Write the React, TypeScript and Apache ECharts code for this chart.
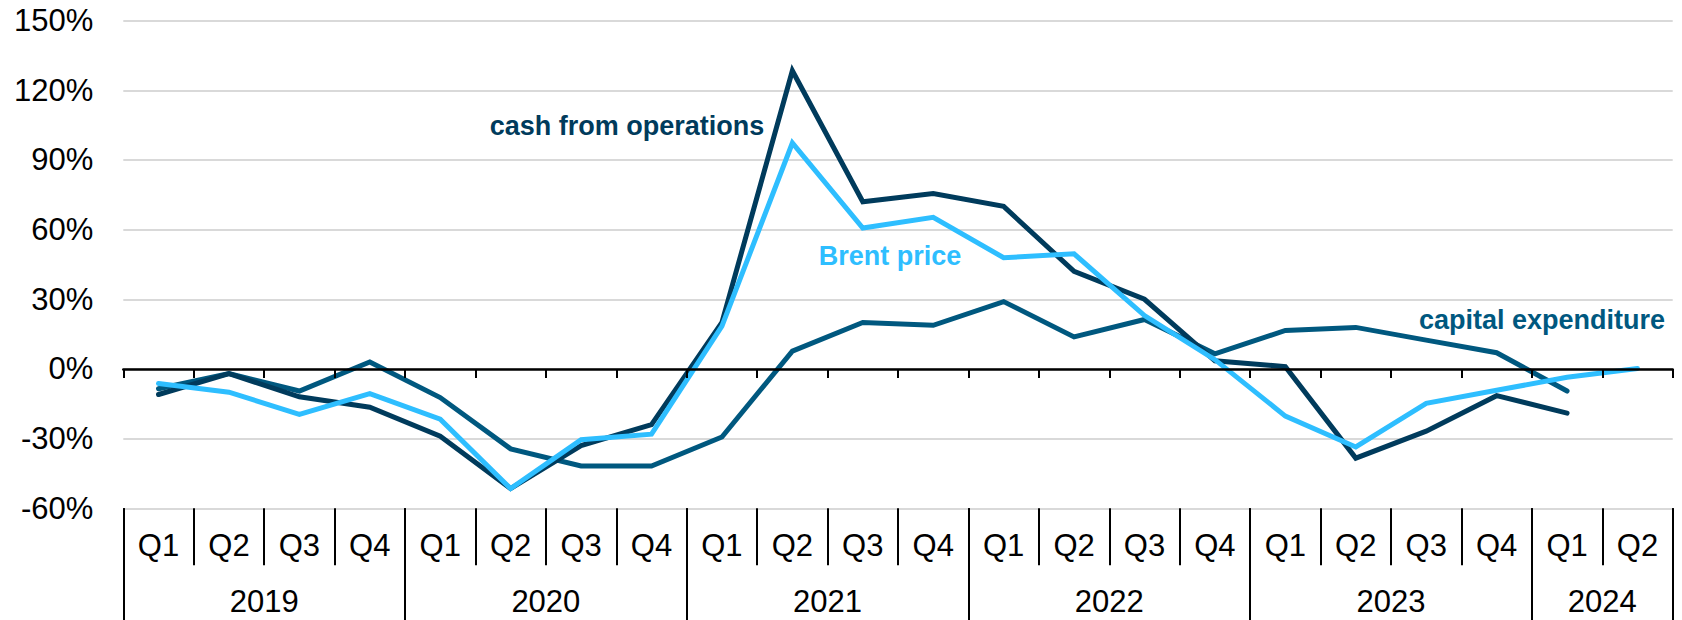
import React, { useEffect, useRef } from "react";
import * as echarts from "echarts";

const quarterLabels = [
  "Q1", "Q2", "Q3", "Q4",
  "Q1", "Q2", "Q3", "Q4",
  "Q1", "Q2", "Q3", "Q4",
  "Q1", "Q2", "Q3", "Q4",
  "Q1", "Q2", "Q3", "Q4",
  "Q1", "Q2",
];

// labels sitting on quarter boundaries (0..22)
const yearBoundaryLabels = [
  "", "", "2019", "", "", "", "2020", "", "", "", "2021", "", "",
  "", "2022", "", "", "", "2023", "", "", "2024", "",
];
const yearSeparators = [0, 4, 8, 12, 16, 20, 22];

const cashFromOperations = [
  -11, -2, -12, -16.5,
  -29, -51.5, -33, -24,
  20, 128.4, 72, 75.5,
  70, 42, 30, 3.5,
  1, -38.4, -26.8, -11.5,
  -19, null,
];
const capitalExpenditure = [
  -8.5, -2, -9.5, 3,
  -12.3, -34.4, -41.8, -41.8,
  -29.3, 7.7, 20, 18.8,
  29, 13.8, 21.3, 6.5,
  16.6, 17.9, 12.4, 7,
  -9.5, null,
];
const brentPrice = [
  -6.3, -10, -19.6, -10.6,
  -21.6, -51.5, -30.5, -28.1,
  18.4, 97.3, 60.7, 65.3,
  47.9, 49.6, 23, 4,
  -20.3, -33.6, -14.8, -9.2,
  -3.6, 0.2,
];

const Y_MIN = -60;
const Y_MAX = 150;
const Y_STEP = 30;

const COLOR_CASH = "#003B5C";
const COLOR_CAPEX = "#00587F";
const COLOR_BRENT = "#2EBEFF";
const FONT = "'Liberation Sans', Arial, sans-serif";
const AXIS_FONT_SIZE = 31;

export default function App() {
  const ref = useRef<HTMLDivElement>(null);

  useEffect(() => {
    if (!ref.current) return;
    const chart = echarts.init(ref.current, undefined, { renderer: "svg" });
    const lineSeries = (name: string, data: (number | null)[], color: string) => ({
      name,
      type: "line",
      xAxisIndex: 0,
      yAxisIndex: 0,
      data,
      showSymbol: false,
      symbol: "none",
      connectNulls: false,
      lineStyle: { color, width: 5, cap: "round", join: "miter" },
      emphasis: { disabled: true },
    });
    chart.setOption({
      animation: false,
      textStyle: { fontFamily: FONT },
      grid: { left: 123.3, right: 9.3, top: 20.6, bottom: 111.7, containLabel: false },
      xAxis: [
        {
          type: "category",
          data: quarterLabels.map((q, i) => q + "_" + i),
          boundaryGap: true,
          position: "bottom",
          axisLine: { show: true, onZero: true, lineStyle: { color: "#000", width: 2.5 } },
          axisTick: { show: true, interval: 0, length: 9, lineStyle: { color: "#000", width: 2 } },
          axisLabel: { show: false },
          splitLine: { show: false },
          z: 5,
        },
        {
          type: "category",
          data: quarterLabels.map((q, i) => q + "_" + i),
          boundaryGap: true,
          position: "bottom",
          axisLine: { show: false, onZero: false },
          axisTick: { show: true, interval: 0, length: 57, lineStyle: { color: "#000", width: 2 } },
          axisLabel: {
            show: true,
            interval: 0,
            margin: 22,
            fontSize: AXIS_FONT_SIZE,
            color: "#000",
            fontFamily: FONT,
            formatter: (_v: string, i: number) => quarterLabels[i],
          },
          splitLine: { show: false },
        },
        {
          type: "category",
          data: yearBoundaryLabels.map((_l, i) => "b" + i),
          boundaryGap: false,
          position: "bottom",
          axisLine: { show: false, onZero: false },
          axisTick: {
            show: true,
            interval: (i: number) => yearSeparators.includes(i),
            length: 120,
            lineStyle: { color: "#000", width: 2 },
          },
          axisLabel: {
            show: true,
            interval: (i: number) => yearBoundaryLabels[i] !== "",
            margin: 78,
            fontSize: AXIS_FONT_SIZE,
            color: "#000",
            fontFamily: FONT,
            formatter: (_v: string, i: number) => yearBoundaryLabels[i],
          },
          splitLine: { show: false },
        },
      ],
      yAxis: {
        type: "value",
        min: Y_MIN,
        max: Y_MAX,
        interval: Y_STEP,
        axisLine: { show: false },
        axisTick: { show: false },
        axisLabel: {
          formatter: "{value}%",
          fontSize: AXIS_FONT_SIZE,
          color: "#000",
          margin: 30,
          fontFamily: FONT,
        },
        splitLine: { show: true, lineStyle: { color: "#D9D9D9", width: 2 } },
      },
      series: [
        lineSeries("capital expenditure", capitalExpenditure, COLOR_CAPEX),
        lineSeries("cash from operations", cashFromOperations, COLOR_CASH),
        lineSeries("Brent price", brentPrice, COLOR_BRENT),
      ],
      graphic: [
        {
          type: "text",
          x: 627,
          y: 126,
          style: {
            text: "cash from operations",
            fill: COLOR_CASH,
            font: `bold 27px ${FONT}`,
            textAlign: "center",
            align: "center",
            textVerticalAlign: "middle",
            verticalAlign: "middle",
          },
        },
        {
          type: "text",
          x: 890,
          y: 256,
          style: {
            text: "Brent price",
            fill: COLOR_BRENT,
            font: `bold 27px ${FONT}`,
            textAlign: "center",
            align: "center",
            textVerticalAlign: "middle",
            verticalAlign: "middle",
          },
        },
        {
          type: "text",
          x: 1542,
          y: 320,
          style: {
            text: "capital expenditure",
            fill: COLOR_CAPEX,
            font: `bold 27px ${FONT}`,
            textAlign: "center",
            align: "center",
            textVerticalAlign: "middle",
            verticalAlign: "middle",
          },
        },
      ],
    });
    return () => chart.dispose();
  }, []);

  return (
    <div
      ref={ref}
      style={{ position: "fixed", left: 0, top: 0, width: 1682, height: 620, background: "#fff" }}
    />
  );
}
